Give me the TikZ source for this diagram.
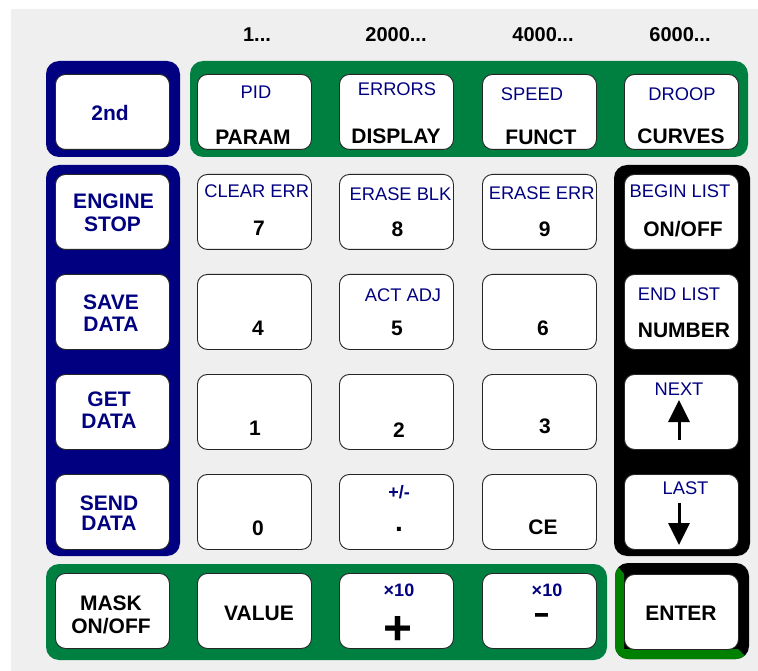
\documentclass[tikz,border=0pt]{standalone}
\usepackage{fontspec}
\setmainfont{Liberation Sans}
\usetikzlibrary{arrows.meta}
\definecolor{bg}{HTML}{EFEFEF}
\definecolor{navy}{HTML}{000080}
\definecolor{grp}{HTML}{008040}
\definecolor{entg}{HTML}{008000}
\tikzset{
  btn/.style={draw=black!85, line width=0.9pt, fill=white, rounded corners=10pt,
    minimum width=114pt, minimum height=75pt, inner sep=0pt, anchor=north west},
  grpbox/.style={rounded corners=13pt},
  main/.style={inner sep=0pt, font=\bfseries\fontsize{21}{21}\selectfont},
  bmain/.style={main, text=navy},
  sub/.style={inner sep=0pt, text=navy, font=\fontsize{18.3}{18}\selectfont},
  bsub/.style={inner sep=0pt, text=navy, font=\bfseries\fontsize{18}{18}\selectfont},
  hdr/.style={inner sep=0pt, font=\bfseries\fontsize{20}{20}\selectfont},
  arr/.style={line width=3pt, -{Triangle[width=21pt,length=22pt]}}
}
\begin{document}
\begin{tikzpicture}[x=1pt,y=-1pt]
\useasboundingbox (0,0) rectangle (758,671);
\fill[white] (0,0) rectangle (758,671);
\fill[bg] (11,9) rectangle (758,671);

% headers
\node[hdr] (h1) at (257,35) {1...};
\node[hdr] (h2) at (396,35) {2000...};
\node[hdr] (h3) at (543,35) {4000...};
\node[hdr] (h4) at (680,35) {6000...};

% groups
\fill[navy,grpbox] (46,61) rectangle (180,157);
\fill[grp,grpbox] (190,61) rectangle (748,157);
\fill[navy,grpbox] (46,165) rectangle (180,556);
\fill[black,grpbox] (614,165) rectangle (750,556);
\fill[grp,grpbox] (46,564) rectangle (607,660);
% enter bevel frame
\fill[black,grpbox] (615,563) rectangle (749,659);
\begin{scope}[rounded corners=13pt]
  \clip (615,563) rectangle (749,659);
  \fill[entg,sharp corners] (615,563) -- (624,574) -- (624,649) -- (738,649) -- (749,660) -- (615,660) -- cycle;
\end{scope}

% top row
\node[btn] (k2nd) at (55,74) {};
\node[btn] (kparam) at (197,74) {};
\node[btn] (kdisp) at (339,74) {};
\node[btn] (kfunct) at (482,74) {};
\node[btn] (kcurv) at (624,74) {};
\node[bmain] (t2nd) at (110,113) {2nd};
\node[sub] (spid) at (256,92.5) {PID};
\node[main] (tparam) at (253,137) {PARAM};
\node[sub] (serr) at (397,89) {ERRORS};
\node[main] (tdisp) at (396,136) {DISPLAY};
\node[sub] (sspeed) at (532,94) {SPEED};
\node[main] (tfunct) at (541,137.5) {FUNCT};
\node[sub] (sdroop) at (682,94) {DROOP};
\node[main] (tcurv) at (681,136) {CURVES};

% left column
\node[btn] (keng) at (55,174) {};
\node[btn] (ksave) at (55,274) {};
\node[btn] (kget) at (55,374) {};
\node[btn] (ksend) at (55,474) {};
\node[bmain] (teng1) at (113.5,201.5) {ENGINE};
\node[bmain] (teng2) at (112.5,224) {STOP};
\node[bmain] (tsave1) at (111,302.5) {SAVE};
\node[bmain] (tsave2) at (111,324.5) {DATA};
\node[bmain] (tget1) at (109,399) {GET};
\node[bmain] (tget2) at (109,421) {DATA};
\node[bmain] (tsend1) at (109,503) {SEND};
\node[bmain] (tsend2) at (109,523) {DATA};

% number pad
\node[btn] (k7) at (197,174) {};
\node[btn] (k8) at (339,174) {};
\node[btn] (k9) at (482,174) {};
\node[btn] (k4) at (197,274) {};
\node[btn] (k5) at (339,274) {};
\node[btn] (k6) at (482,274) {};
\node[btn] (k1) at (197,374) {};
\node[btn] (k2) at (339,374) {};
\node[btn] (k3) at (482,374) {};
\node[btn] (k0) at (197,474) {};
\node[btn] (kdot) at (339,474) {};
\node[btn] (kce) at (482,474) {};

\node[sub] (sclr) at (256.7,191.5) {CLEAR ERR};
\node[main] (t7) at (259,228.5) {7};
\node[sub] (sblk) at (400.5,194) {ERASE BLK};
\node[main] (t8) at (397.5,229) {8};
\node[sub] (serr2) at (541.7,193) {ERASE ERR};
\node[main] (t9) at (544.7,229) {9};
\node[main] (t4) at (258,328) {4};
\node[sub] (sact) at (403,295) {ACT ADJ};
\node[main] (t5) at (397,328) {5};
\node[main] (t6) at (543,328) {6};
\node[main] (t1) at (255,428) {1};
\node[main] (t2) at (399,430) {2};
\node[main] (t3) at (545,426) {3};
\node[main] (t0) at (258,528) {0};
\node[bsub] (spm) at (399,492) {+/-};
\node[inner sep=0pt, font=\bfseries\fontsize{28}{28}\selectfont, anchor=base] (tdot) at (399,531) {.};
\node[main] (tce) at (543,527) {CE};

% right column
\node[btn] (kbeg) at (624,174) {};
\node[btn] (kend) at (624,274) {};
\node[btn] (knext) at (624,374) {};
\node[btn] (klast) at (624,474) {};
\node[sub] (sbeg) at (680,191.5) {BEGIN LIST};
\node[main] (tonoff) at (683,229) {ON/OFF};
\node[sub] (send) at (679,294.5) {END LIST};
\node[main] (tnum) at (684,330.5) {NUMBER};
\node[sub] (snext) at (679,389.5) {NEXT};
\node[sub] (slast) at (685.5,488.5) {LAST};
\coordinate (nexta) at (679,440);
\coordinate (nextb) at (679,400);
\coordinate (lasta) at (679,503);
\coordinate (lastb) at (679,545);
\draw[arr] (nexta) -- (nextb);
\draw[arr] (lasta) -- (lastb);

% bottom row
\node[btn] (kmask) at (55,573) {};
\node[btn] (kval) at (197,573) {};
\node[btn] (kplus) at (339,573) {};
\node[btn] (kminus) at (482,573) {};
\node[btn] (kenter) at (624,574) {};
\node[main] (tmask1) at (111,603) {MASK};
\node[main] (tmask2) at (111,626) {ON/OFF};
\node[main] (tval) at (259,613) {VALUE};
\node[bsub] (sx1) at (399,590) {×10};
\node[inner sep=0pt] (tplus) at (398,630) {\resizebox{29pt}{28pt}{\bfseries +}};
\node[bsub] (sx2) at (547,590) {×10};
\node[inner sep=0pt] (tminus) at (541.5,618) {\resizebox{17pt}{10pt}{\bfseries -}};
\node[main] (tenter) at (681,613) {ENTER};
\end{tikzpicture}
\end{document}
